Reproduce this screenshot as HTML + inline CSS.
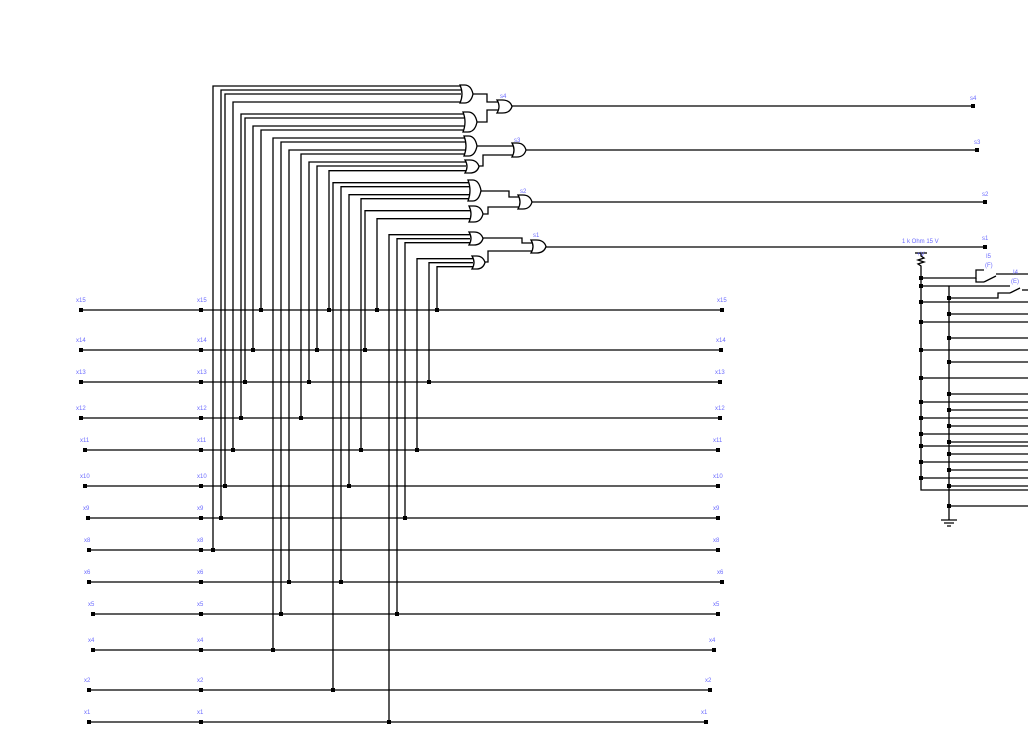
<!DOCTYPE html>
<html><head><meta charset="utf-8"><style>
html,body{margin:0;padding:0;background:#fff;width:1028px;height:750px;overflow:hidden}
svg{display:block}
text{font-family:"Liberation Sans",sans-serif;font-size:6px;fill:#6b6bff}
</style></head><body>
<svg id="s" width="1028" height="750" xmlns="http://www.w3.org/2000/svg">
<g id="g" stroke="#000" stroke-width="1.3" fill="none"></g>
<g id="d" fill="#000"></g>
<g id="t"></g>
</svg>
<script>
const G=document.getElementById('g'),D=document.getElementById('d'),T=document.getElementById('t');
const NS='http://www.w3.org/2000/svg';
function P(d,fill){const e=document.createElementNS(NS,'path');e.setAttribute('d',d);if(fill)e.setAttribute('fill',fill);G.appendChild(e);}
function dot(x,y){const e=document.createElementNS(NS,'rect');e.setAttribute('x',x-2);e.setAttribute('y',y-2);e.setAttribute('width',4);e.setAttribute('height',4);D.appendChild(e);}
function txt(x,y,s){const e=document.createElementNS(NS,'text');e.setAttribute('x',x);e.setAttribute('y',y);e.textContent=s;T.appendChild(e);}
function gate(x0,x1,y0,y1){const yc=(y0+y1)/2,w=x1-x0;
 P(`M${x0},${y0} Q${x0+4},${yc} ${x0},${y1} L${x0+w*0.35},${y1} Q${x1-2},${y1} ${x1},${yc} Q${x1-2},${y0} ${x0+w*0.35},${y0} Z`,'#fff');}
// buses
const bus=[[310,81,722,'x15'],[350,81,721,'x14'],[382,81,720,'x13'],[418,81,720,'x12'],[450,85,718,'x11'],[486,85,718,'x10'],[518,88,718,'x9'],[550,89,718,'x8'],[582,89,722,'x6'],[614,93,718,'x5'],[650,93,714,'x4'],[690,89,710,'x2'],[722,89,706,'x1']];
bus.forEach(b=>{P(`M${b[1]},${b[0]}H${b[2]}`);dot(b[1],b[0]);dot(201,b[0]);dot(b[2],b[0]);
 txt(b[1]-5,b[0]-8,b[3]);txt(197,b[0]-8,b[3]);txt(b[2]-5,b[0]-8,b[3]);});
// verticals [x, top, bottom, gateX]
const V=[[213,86,550],[221,90,518],[225,94,486],[233,102,450],[241,114,418],[245,118,382],[253,126,350],[261,130,310],
[273,138,650],[281,142,614],[289,150,582],[301,154,418],[309,162,382],[317,166,350],[329,170.7,310],
[333,182.7,690],[341,186.7,582],[349,194.7,486],[361,198.7,450],[365,210.7,350],[377,218.7,310],
[389,234.7,722],[397,238.7,614],[405,242.7,518],[417,258.7,450],[429,262.7,382],[437,266.7,310]];
function gx(y){if(y<=103)return 461;if(y<=131)return 464;if(y<=155)return 465;if(y<=172)return 466;if(y<=200)return 469;if(y<=220)return 470;if(y<=244)return 470;return 473;}
V.forEach(v=>{P(`M${v[0]},${v[2]}V${v[1]}H${gx(v[1])}`);dot(v[0],v[2]);});
// first-level gates
gate(460,473,85,103);gate(463,477,112,132);gate(464,477,136,156);gate(465,479,160,173);
gate(468,481,180,201);gate(469,483,206,222);gate(469,483,232,245);gate(472,485,256,269);
// interconnect
P('M473,94H487V102H498');P('M477,122H487V110H498');
P('M477,146H513');P('M479,166H483V155H513');
P('M481,191H509V197H519');P('M483,214H488V207H519');
P('M483,238H522V243H532');P('M485,262H488V251H532');
gate(497,512,100,113);gate(512,526,143,157);gate(518,532,195,209);gate(531,546,240,253);
P('M512,106H973');P('M526,150H977');P('M532,202H985');P('M546,247H985');
dot(973,106);dot(977,150);dot(985,202);dot(985,247);
txt(500,98,'s4');txt(514,142,'s3');txt(520,193,'s2');txt(533,237,'s1');
txt(970,100,'s4');txt(974,144,'s3');txt(982,196,'s2');txt(982,240,'s1');
txt(902,243,'1 k Ohm 15 V');
// right circuit
txt(917,256,'+V');
P('M915,253H927');
P('M921,253V256L924,258L918,260L924,262L918,264L921,266V490H1028');
P('M949,286V520');
P('M941,520H957M944,523H954M947,526H951');
[278,286,302,322,350,378,402,418,434,446,462,478].forEach(y=>{dot(921,y);});
[302,322,350,378,402,418,434,446,462,478].forEach(y=>P(`M921,${y}H1028`));
[298,314,338,362,394,410,426,442,454,470,486,506].forEach(y=>{dot(949,y);});
[314,338,362,394,410,426,442,454,470,486,506].forEach(y=>P(`M949,${y}H1028`));
// switch 1
P('M921,278H976V270H984');P('M976,278V282H984');P('M921,286H1010');
P('M984,282L996,276');P('M996,274H1028');
txt(986,258,'I5');txt(985,267,'(F)');
// switch 2
P('M949,298H998V293H1010');P('M1010,293L1020,288');P('M1022,290H1028');
txt(1013,274,'I4');txt(1011,283,'(E)');
</script>
</body></html>
